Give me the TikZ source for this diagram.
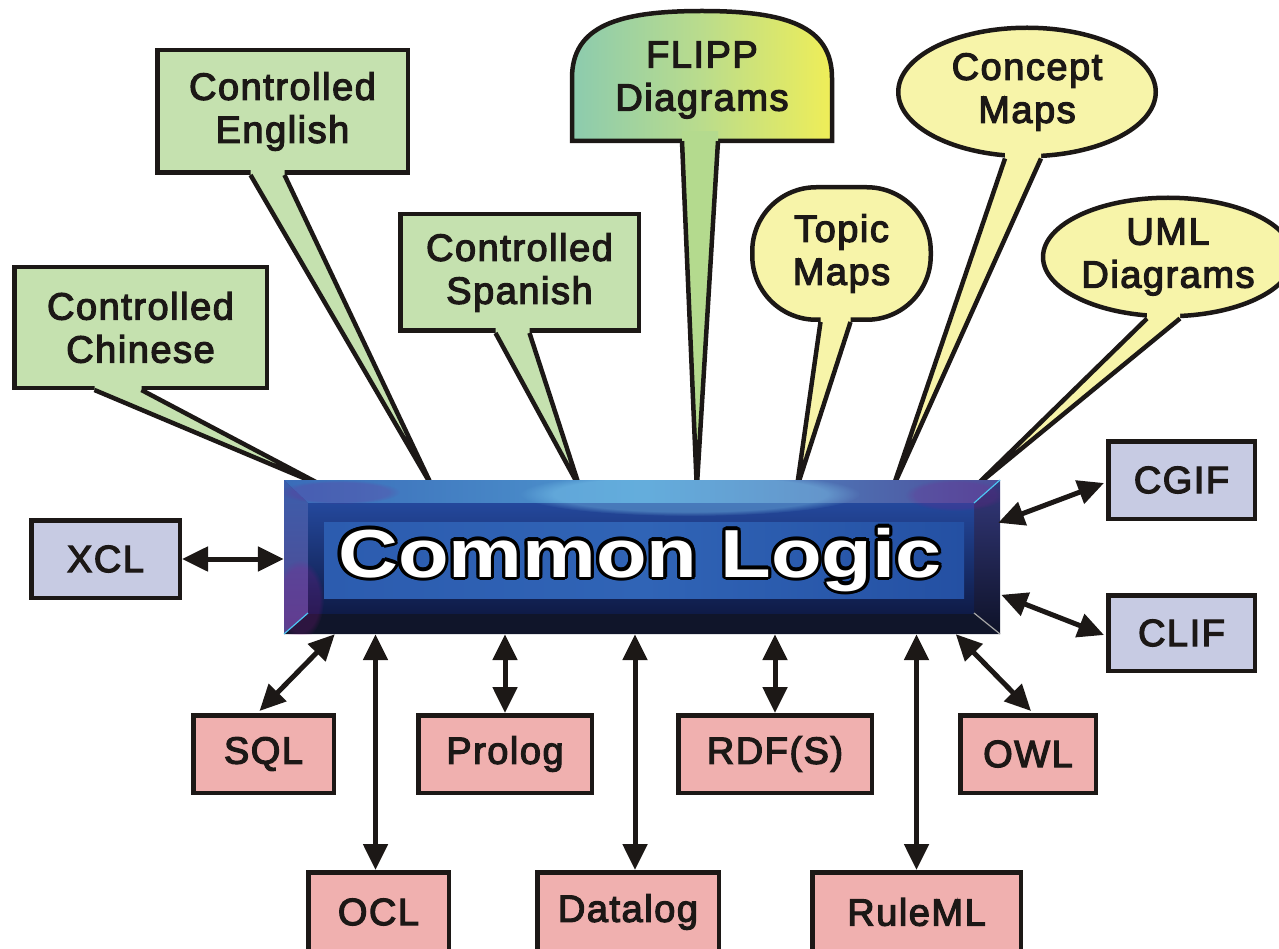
\documentclass[tikz,border=0pt]{standalone}
\usepackage{fontspec}
\setmainfont{Liberation Sans}
\newfontfamily\lblfont[FakeBold=3.2,LetterSpace=4]{Liberation Sans}
\usetikzlibrary{arrows.meta,calc,shapes.geometric,fadings}

\definecolor{grnfill}{HTML}{C5E1AF}
\definecolor{yelfill}{HTML}{F7F4A9}
\definecolor{blufill}{HTML}{C7CBE3}
\definecolor{pnkfill}{HTML}{F0B0AF}
\definecolor{inkc}{HTML}{1C1816}
\definecolor{flippL}{HTML}{8CCBAE}
\definecolor{flippM}{HTML}{BADC8C}
\definecolor{flippR}{HTML}{EFEE58}
\definecolor{flipptail}{HTML}{B4DA8E}
\definecolor{clbase}{HTML}{23489A}
\definecolor{clTopL}{HTML}{3A6CB9}
\definecolor{clTopM}{HTML}{4F96CE}
\definecolor{clTopR}{HTML}{4E4E9A}
\definecolor{clLeftT}{HTML}{3C5EAC}
\definecolor{clLeftB}{HTML}{54478F}
\definecolor{clBot}{HTML}{10152A}
\definecolor{clRightT}{HTML}{34397C}
\definecolor{clRightB}{HTML}{0E1228}
\definecolor{clBandT}{HTML}{24489C}
\definecolor{clBandB}{HTML}{0F1B47}
\definecolor{clFieldL}{HTML}{2C5CAF}
\definecolor{clFieldM}{HTML}{3064B6}
\definecolor{clFieldR}{HTML}{2450A3}

\newcommand{\mytail}[5]{%
  \fill[#5] ($(#1.south)+(#2,0)$) -- (#4) -- ($(#1.south)+(#3,0)$) -- ($(#1.south)+(#3,-10)$) -- ($(#1.south)+(#2,-10)$) -- cycle;
  \draw[tailline] ($(#1.south)+(#2,0)$) -- (#4) -- ($(#1.south)+(#3,0)$);}

\begin{document}
\begin{tikzpicture}[x=1pt,y=-1pt,
  lbl/.style={font=\lblfont\fontsize{38}{43}\selectfont, align=center, text=inkc},
  boxed/.style={lbl, draw=inkc, line width=4.5pt, inner sep=0pt},
  gbox/.style={boxed, fill=grnfill},
  bbox/.style={boxed, fill=blufill},
  pbox/.style={boxed, fill=pnkfill},
  bub/.style={boxed, fill=yelfill},
  tailline/.style={draw=inkc, line width=4.5pt},
  dbl/.style={draw=inkc, line width=5pt, {Triangle[length=26pt,width=24pt]}-{Triangle[length=26pt,width=24pt]}},
  cltext/.style={font=\fontsize{68}{80}\selectfont\bfseries, anchor=base, inner sep=0pt}
]
\useasboundingbox (0,0) rectangle (1279,949);

% central node (geometry only, rendered later)
\node (cl) [minimum width=716pt, minimum height=154pt, inner sep=0pt] at (642,557) {};

% tips of callouts (inside the top edge of Common Logic)
\coordinate (tchi) at ($(cl.north west)+(43,8)$);
\coordinate (teng) at ($(cl.north west)+(149,8)$);
\coordinate (tspa) at ($(cl.north west)+(296,8)$);
\coordinate (tfli) at ($(cl.north west)+(413,8)$);
\coordinate (ttop) at ($(cl.north west)+(513,8)$);
\coordinate (tcon) at ($(cl.north west)+(609,8)$);
\coordinate (tuml) at ($(cl.north west)+(690,8)$);

% green callouts
\node (chi) [gbox, minimum width=252.5pt, minimum height=120.5pt] at (140.5,327.5) {Controlled\\Chinese};
\mytail{chi}{-46}{1}{tchi}{grnfill}
\node (eng) [gbox, minimum width=250.5pt, minimum height=122.5pt] at (282.5,111.5) {Controlled\\English};
\mytail{eng}{-32}{2}{teng}{grnfill}
\node (spa) [gbox, minimum width=238.5pt, minimum height=116.5pt] at (519.5,272.5) {Controlled\\Spanish};
\mytail{spa}{-24}{10}{tspa}{grnfill}

% FLIPP dome
\shadedraw[left color=flippL, right color=flippR, middle color=flippM, draw=inkc, line width=4.5pt]
  (572,141) -- (572,78) .. controls (572,26) and (618,11) .. (702,11) .. controls (786,11) and (832,26) .. (832,78) -- (832,141) -- cycle;
\node (flipp) [lbl, minimum width=260pt, minimum height=122pt, inner sep=0pt] at (702,80) {FLIPP\\Diagrams};
\mytail{flipp}{-20}{16}{tfli}{flipptail}

% yellow bubbles
\node (topic) [bub, rounded corners=64pt, minimum width=178.5pt, minimum height=132.5pt] at (841.5,253.5) {Topic\\Maps};
\mytail{topic}{-21}{9}{ttop}{yelfill}
\node (concept) [bub, ellipse, minimum width=257.5pt, minimum height=128.5pt] at (1027,92) {Concept\\Maps};
\mytail{concept}{-22}{14}{tcon}{yelfill}
\node (uml) [bub, ellipse, minimum width=250pt, minimum height=118.5pt] at (1168,257) {UML\\Diagrams};
\mytail{uml}{-21}{12}{tuml}{yelfill}

% Common Logic rendering
\fill[clbase] (284,480) rectangle (1000,634);
\shade[left color=clTopL, right color=clTopR, middle color=clTopM] (284,480) -- (1000,480) -- (974,503) -- (308,503) -- cycle;
\shade[top color=clLeftT, bottom color=clLeftB] (284,480) -- (308,503) -- (308,613) -- (284,634) -- cycle;
\fill[clBot] (284,634) -- (308,613) -- (974,613) -- (1000,634) -- cycle;
\shade[top color=clRightT, bottom color=clRightB] (1000,480) -- (974,503) -- (974,613) -- (1000,634) -- cycle;
\shade[top color=clBandT, bottom color=clBandB] (308,503) rectangle (974,613);
\shade[left color=clFieldL, right color=clFieldR, middle color=clFieldM] (324,522) rectangle (964,598);
\begin{scope}
  \clip (284,480) rectangle (1000,634);
  \fill[cyan!45!white, opacity=.35, path fading=circle with fuzzy edge 20 percent] (690,494) ellipse [x radius=170, y radius=22];
  \fill[magenta!55!blue, opacity=.22, path fading=circle with fuzzy edge 20 percent] (300,600) ellipse [x radius=24, y radius=40];
  \fill[magenta!45!blue, opacity=.2, path fading=circle with fuzzy edge 20 percent] (955,495) ellipse [x radius=50, y radius=16];
  \fill[magenta!45!blue, opacity=.18, path fading=circle with fuzzy edge 20 percent] (340,492) ellipse [x radius=60, y radius=12];
\end{scope}
\draw[cyan!70!white, line width=1.2pt] (1000,480) -- (974,503);
\draw[cyan!70!white, line width=1.2pt] (284,634) -- (308,613);
\draw[gray!70, line width=1.2pt] (1000,634) -- (974,613);

% Common Logic text, white with black outline
\foreach \a [count=\i] in {0,22.5,...,337.5}
  \node (clo\i) [cltext, text=black] at ($(cl.center)+(-2,20)+(\a:3.2)$) {\scalebox{1.22}[1]{Common Logic}};
\node (cltitle) [cltext, text=white] at ($(cl.center)+(-2,20)$) {\scalebox{1.22}[1]{Common Logic}};

% blue boxes
\node (xcl) [bbox, minimum width=148.5pt, minimum height=77.5pt] at (105.5,559) {XCL};
\node (cgif) [bbox, minimum width=146.5pt, minimum height=77.5pt] at (1181.5,480) {CGIF};
\node (clif) [bbox, minimum width=146.5pt, minimum height=75.5pt] at (1181.5,633) {CLIF};

% pink boxes
\node (sql) [pbox, minimum width=140.5pt, minimum height=77.5pt] at (263.5,754) {SQL};
\node (prolog) [pbox, minimum width=173.5pt, minimum height=77.5pt] at (505,754) {Prolog};
\node (rdfs) [pbox, minimum width=193.5pt, minimum height=77.5pt] at (775,754) {RDF(S)};
\node (owl) [pbox, minimum width=135.5pt, minimum height=77.5pt] at (1028,754) {OWL};
\node (ocl) [pbox, minimum width=140.5pt, minimum height=79.5pt] at (378.5,912) {OCL};
\node (datalog) [pbox, minimum width=181.5pt, minimum height=79.5pt] at (628,912) {Datalog};
\node (ruleml) [pbox, minimum width=208.5pt, minimum height=79.5pt] at (916.5,912) {RuleML};

% connector end points
\coordinate (oclt) at ($(ocl.north)+(-3,0)$);
\coordinate (datt) at ($(datalog.north)+(7,0)$);

% connectors
\draw[dbl] (xcl.east) -- (xcl.east -| cl.west);
\draw[dbl] ($(cgif.west)+(-2,3)$) -- ($(cl.north east)+(-2,43)$);
\draw[dbl] ($(clif.west)+(-2,2)$) -- ($(cl.north east)+(1,115)$);
\draw[dbl] ($(sql.north)+(-4,-2)$) -- ($(cl.south west)+(51,0)$);
\draw[dbl] (oclt) -- (oclt |- cl.south);
\draw[dbl] (prolog.north) -- (prolog.north |- cl.south);
\draw[dbl] (datt) -- (datt |- cl.south);
\draw[dbl] (rdfs.north) -- (rdfs.north |- cl.south);
\draw[dbl] (ruleml.north) -- (ruleml.north |- cl.south);
\draw[dbl] ($(owl.north)+(3,-2)$) -- ($(cl.south west)+(672,0)$);
\end{tikzpicture}
\end{document}
